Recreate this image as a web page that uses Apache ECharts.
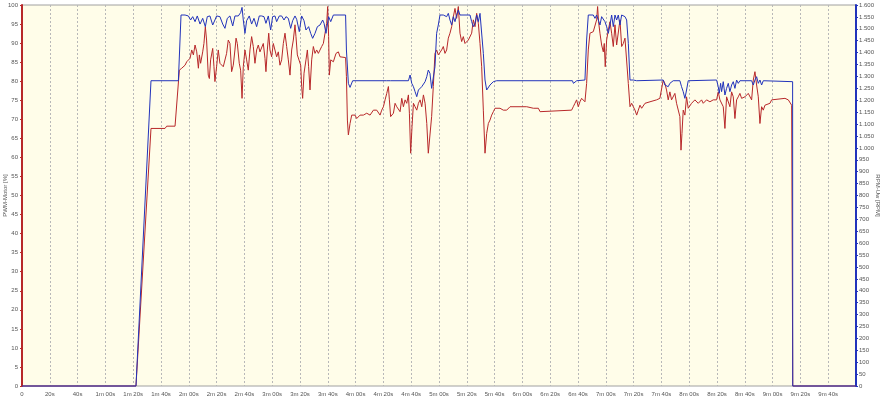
<!DOCTYPE html>
<html>
<head>
<meta charset="utf-8">
<script src="https://cdn.jsdelivr.net/npm/echarts@6/dist/echarts.min.js"></script>
<style>
html,body{margin:0;padding:0;background:#ffffff;}
#chart{width:887px;height:399px;}
</style>
</head>
<body>
<div id="chart"></div>
<script>
// time [s], PWM-Motor [%]
const pwmMotor = [
[0,0],[82,0],[92.8,67.6],[102.9,67.6],[104.1,68.2],[110.1,68.2],[113.2,82.9],[114.9,83.4],[116.1,82.9],[117.3,84.2],[118.5,85.1],[119.7,84.7],[120.9,86.0],[122.1,88.2],[123.3,86.9],[124.5,89.5],[125.7,87.7],[126.9,83.4],[127.6,86.9],[128.5,84.7],[130.0,87.7],[130.9,89.9],[131.9,94.3],[132.8,90.8],[134.0,81.6],[134.8,80.7],[135.7,85.6],[137.2,88.6],[138.1,83.8],[138.8,79.9],[140.0,83.8],[141.2,88.2],[142.4,84.7],[143.6,85.1],[144.8,83.8],[146.0,84.2],[147.2,87.3],[148.4,90.8],[149.6,89.9],[150.8,82.5],[152.0,84.2],[153.2,88.2],[154.0,91.3],[154.9,89.9],[156.3,84.7],[157.3,82.9],[158.3,75.5],[159.2,83.8],[160.4,88.2],[161.6,85.6],[162.8,82.9],[164.0,88.2],[165.2,91.7],[166.4,89.1],[167.6,84.7],[168.8,88.2],[170.0,89.5],[171.2,87.7],[172.4,88.2],[173.6,89.9],[174.8,86.0],[175.5,82.5],[176.5,88.2],[177.5,92.6],[178.4,88.2],[179.6,86.4],[180.8,89.9],[182.0,89.9],[183.2,86.4],[184.4,87.7],[185.6,84.2],[186.8,85.6],[188.0,89.9],[189.2,92.6],[190.4,89.1],[191.6,85.6],[192.8,81.6],[194.0,88.2],[195.2,90.8],[196.4,94.8],[197.1,91.7],[198.1,86.9],[199.5,86.4],[200.5,84.2],[201.2,78.6],[201.9,75.5],[202.9,82.1],[204.3,85.6],[205.3,88.2],[206.2,83.8],[207.2,77.7],[208.4,85.6],[209.6,89.1],[210.8,87.3],[212.0,88.2],[213.2,87.3],[214.4,88.2],[215.6,89.1],[216.8,89.9],[218.0,92.6],[219.2,95.2],[219.9,99.6],[220.6,91.7],[221.1,81.6],[222.1,85.6],[224.0,85.1],[225.9,87.3],[227.6,87.7],[228.8,86.4],[232.8,86.2],[233.4,81.2],[234.1,69.8],[234.8,65.9],[236.0,68.9],[237.2,71.1],[238.4,70.7],[239.6,71.1],[240.8,70.2],[242.0,70.7],[243.2,71.1],[245.6,71.1],[248.0,71.6],[250.4,71.1],[252.8,72.4],[255.2,72.4],[256.4,72.9],[257.6,71.1],[258.8,72.4],[260.0,73.3],[261.2,75.1],[262.4,76.8],[263.6,78.6],[264.3,75.1],[265.2,70.7],[266.0,70.2],[267.2,71.6],[268.4,74.2],[269.6,73.3],[270.8,73.3],[272.0,72.0],[273.2,75.5],[274.4,73.3],[275.6,75.1],[276.8,74.2],[278.0,76.4],[278.7,71.6],[279.6,61.1],[280.6,68.1],[281.6,74.2],[282.8,73.3],[284.0,72.4],[285.2,74.2],[286.4,75.1],[287.6,73.3],[288.8,76.4],[290.0,74.2],[291.2,68.9],[292.3,61.1],[293.5,61.1],[294.7,70.7],[295.9,78.6],[297.1,87.3],[298.3,88.2],[299.5,86.9],[300.7,86.9],[301.9,88.2],[303.1,89.1],[304.3,87.3],[305.5,88.2],[306.7,91.3],[307.9,92.6],[309.1,94.3],[310.3,96.9],[311.5,99.1],[312.7,96.5],[313.9,99.6],[315.1,92.6],[316.3,90.4],[317.5,91.7],[318.7,89.9],[319.9,90.4],[321.1,90.8],[322.3,90.4],[323.5,92.6],[324.7,96.1],[325.9,94.3],[327.1,97.8],[328.3,95.2],[329.5,89.9],[330.7,83.8],[331.9,72.4],[333.1,61.1],[334.3,66.3],[335.5,68.9],[336.7,69.8],[337.9,71.1],[339.1,72.0],[340.3,72.9],[341.5,72.4],[343.9,72.9],[346.3,72.4],[348.7,72.4],[351.1,73.3],[363.1,73.3],[367.9,72.9],[371.5,72.9],[372.7,72.0],[395.4,72.4],[396.6,73.3],[397.8,74.2],[399.0,75.1],[400.2,73.3],[401.4,74.6],[402.6,75.5],[403.8,75.1],[405.0,74.6],[406.2,79.4],[407.4,88.2],[408.6,92.6],[409.8,92.1],[411.0,93.0],[412.2,92.6],[413.4,96.1],[414.1,99.6],[414.8,95.6],[415.8,92.6],[417.0,89.5],[418.2,87.7],[418.9,89.9],[419.6,83.8],[420.6,90.8],[421.8,93.4],[423.0,95.6],[424.2,92.6],[425.4,89.1],[426.6,94.8],[427.8,89.5],[429.0,89.9],[430.2,96.1],[431.4,89.1],[432.6,89.9],[433.8,91.3],[435.0,90.8],[436.2,79.4],[437.4,73.3],[438.6,74.2],[439.8,73.3],[441.0,72.4],[442.2,71.1],[443.4,72.4],[444.6,73.7],[445.8,72.9],[447.0,73.3],[448.2,74.2],[449.4,73.7],[451.8,74.6],[453.0,75.1],[456.5,75.1],[458.9,75.5],[460.1,75.5],[461.3,80.3],[462.5,79.4],[463.7,77.7],[464.9,75.1],[466.1,77.2],[467.3,75.1],[468.5,74.6],[469.7,76.8],[470.9,74.2],[472.1,74.6],[473.3,70.7],[474.1,61.9],[474.8,66.3],[475.7,72.4],[476.9,71.1],[478.1,75.9],[479.3,72.9],[480.5,73.3],[481.7,74.2],[482.9,74.2],[484.1,75.1],[485.3,75.5],[486.5,74.2],[487.7,74.6],[488.9,75.1],[490.1,74.2],[492.5,75.1],[494.9,74.6],[497.3,75.1],[499.7,75.1],[500.9,77.2],[502.1,75.1],[503.3,74.6],[504.5,73.3],[505.7,67.6],[506.9,75.9],[508.1,75.5],[509.3,73.3],[510.5,77.2],[511.7,75.9],[512.9,70.2],[514.1,75.1],[515.3,75.9],[516.5,76.8],[517.7,75.5],[518.9,75.1],[520.1,75.9],[521.3,75.5],[522.5,76.8],[523.7,76.4],[524.9,75.1],[526.1,80.3],[527.3,82.5],[528.5,79.0],[529.7,75.9],[530.9,68.9],[532.1,73.3],[533.3,72.4],[534.5,73.7],[535.7,73.3],[538.1,74.2],[539.3,75.1],[540.5,75.5],[548.9,75.5],[550.1,75.1],[551.3,75.1],[552.5,74.6],[553.7,73.7],[554.4,73.3],[554.5,0],[600,0]
];

// time [s], RPM-Uw [RPM]
const rpmUw = [
[0,0],[82,0],[92.8,1282],[112.5,1282],[114.4,1558],[117.3,1558],[119.7,1554],[121.3,1537],[122.8,1551],[124.5,1530],[126.1,1554],[128.1,1520],[130.0,1544],[131.9,1509],[133.3,1551],[135.2,1554],[137.2,1516],[138.8,1537],[140.0,1554],[142.4,1551],[144.4,1520],[146.0,1502],[147.7,1544],[149.6,1554],[151.6,1512],[153.2,1554],[155.6,1554],[157.3,1568],[158.3,1590],[159.2,1537],[160.4,1481],[161.6,1534],[163.5,1554],[165.2,1520],[166.9,1544],[168.8,1509],[170.7,1554],[172.4,1554],[174.1,1551],[175.5,1523],[177.2,1554],[178.9,1495],[180.3,1551],[182.0,1554],[183.2,1530],[185.1,1554],[186.8,1554],[188.5,1537],[189.9,1551],[191.6,1544],[193.3,1502],[194.7,1534],[196.4,1554],[197.6,1540],[199.5,1488],[201.2,1554],[202.9,1534],[204.3,1495],[206.2,1509],[207.7,1481],[209.1,1460],[210.8,1481],[212.5,1509],[214.4,1516],[216.3,1537],[217.3,1523],[218.7,1481],[219.7,1488],[220.6,1551],[222.1,1530],[224.0,1558],[232.8,1558],[233.4,1411],[234.8,1271],[236.0,1254],[237.9,1282],[262.4,1282],[263.6,1276],[265.0,1282],[278.0,1282],[279.2,1306],[280.4,1271],[281.6,1257],[282.8,1236],[284.0,1215],[285.2,1243],[286.4,1250],[287.6,1257],[288.8,1264],[290.0,1278],[291.2,1299],[292.3,1327],[293.5,1313],[294.7,1250],[295.9,1243],[297.1,1341],[298.3,1481],[299.5,1516],[300.7,1558],[303.1,1558],[305.5,1551],[306.7,1565],[307.9,1537],[309.1,1516],[310.3,1551],[311.5,1530],[312.7,1558],[313.9,1579],[315.1,1558],[322.3,1558],[323.5,1530],[324.7,1509],[325.9,1523],[327.1,1558],[328.3,1530],[329.5,1565],[330.7,1558],[331.9,1397],[333.1,1285],[334.3,1243],[335.5,1250],[336.7,1264],[339.1,1278],[341.5,1282],[396.0,1282],[396.7,1271],[399.1,1282],[405.0,1285],[406.2,1453],[407.4,1558],[408.6,1562],[411.0,1558],[412.2,1544],[413.4,1558],[414.6,1537],[415.8,1516],[417.0,1551],[418.2,1558],[419.4,1530],[420.6,1509],[421.8,1481],[423.0,1516],[424.2,1558],[425.4,1509],[426.6,1558],[427.8,1537],[429.0,1558],[430.2,1516],[431.4,1558],[432.6,1558],[433.8,1551],[435.0,1537],[436.2,1439],[437.4,1285],[438.6,1278],[439.8,1285],[442.2,1282],[461.3,1285],[462.5,1264],[463.7,1271],[464.9,1257],[466.1,1271],[468.5,1282],[473.3,1282],[474.5,1257],[475.7,1236],[476.9,1208],[478.1,1243],[479.3,1282],[499.7,1285],[500.9,1257],[501.6,1229],[502.6,1271],[503.3,1236],[504.5,1278],[505.7,1222],[506.9,1250],[508.1,1271],[509.3,1236],[510.5,1264],[511.7,1278],[512.9,1250],[514.1,1285],[515.3,1271],[516.5,1282],[524.9,1282],[526.1,1264],[527.3,1285],[528.5,1299],[529.7,1271],[530.9,1285],[532.1,1264],[533.3,1282],[554.4,1278],[554.5,0],[600,0]
];

const xRange = [0, 600, 20];      // seconds: min, max, step
const pwmRange = [0, 100, 5];     // %
const rpmRange = [0, 1600, 50];   // RPM
const axisNames = ['PWM-Motor [%]', 'RPM-Uw [RPM]'];

function timeLabel(v) {
  if (v === 0) return '0';
  const m = Math.floor(v / 60), s = v % 60;
  const ss = (s < 10 ? '0' : '') + s;
  return m === 0 ? s + 's' : m + 'm ' + ss + 's';
}
function rpmLabel(v) {
  if (v < 1000) return String(v);
  const r = v % 1000;
  return Math.floor(v / 1000) + '.' + String(r).padStart(3, '0');
}

const FONT = 'Liberation Sans';
const labelStyle = { fontFamily: FONT, fontSize: 6, color: '#555' };
const RED = '#b8282a', BLUE = '#2233bb';

const chart = echarts.init(document.getElementById('chart'), null, { renderer: 'canvas' });
chart.setOption({
  animation: false,
  backgroundColor: '#ffffff',
  grid: {
    left: 22, right: 31, top: 5, bottom: 13,
    containLabel: false, outerBoundsMode: 'none',
    show: true, backgroundColor: '#fffde9', borderColor: '#a0a0a0', borderWidth: 1
  },
  xAxis: {
    type: 'value', min: xRange[0], max: xRange[1], interval: xRange[2],
    axisLine: { show: false },
    axisTick: { show: false },
    axisLabel: Object.assign({ margin: 5, showMaxLabel: false, formatter: timeLabel }, labelStyle),
    splitLine: { show: true, lineStyle: { color: '#b8b8b8', type: [2, 2], width: 1 } }
  },
  yAxis: [
    {
      type: 'value', position: 'left', min: pwmRange[0], max: pwmRange[1], interval: pwmRange[2],
      name: axisNames[0], nameLocation: 'middle', nameGap: 14, nameRotate: 90, nameMoveOverlap: false,
      nameTextStyle: { fontFamily: FONT, fontSize: 6, color: '#555' },
      axisLine: { show: true, lineStyle: { color: RED, width: 2 } },
      axisTick: { show: true, length: 2, lineStyle: { color: RED } },
      axisLabel: Object.assign({ margin: 4 }, labelStyle),
      splitLine: { show: false }
    },
    {
      type: 'value', position: 'right', min: rpmRange[0], max: rpmRange[1], interval: rpmRange[2],
      name: axisNames[1], nameLocation: 'middle', nameGap: 19, nameRotate: -90, nameMoveOverlap: false,
      nameTextStyle: { fontFamily: FONT, fontSize: 6, color: '#555' },
      axisLine: { show: true, lineStyle: { color: BLUE, width: 2 } },
      axisTick: { show: true, length: 2, lineStyle: { color: BLUE } },
      axisLabel: Object.assign({ margin: 3, formatter: rpmLabel }, labelStyle),
      splitLine: { show: false }
    }
  ],
  series: [
    {
      name: axisNames[0], type: 'line', yAxisIndex: 0, data: pwmMotor,
      showSymbol: false, clip: false, z: 2,
      lineStyle: { color: RED, width: 1 }
    },
    {
      name: axisNames[1], type: 'line', yAxisIndex: 1, data: rpmUw,
      showSymbol: false, clip: false, z: 3,
      lineStyle: { color: BLUE, width: 1 }
    }
  ]
});
</script>
</body>
</html>
